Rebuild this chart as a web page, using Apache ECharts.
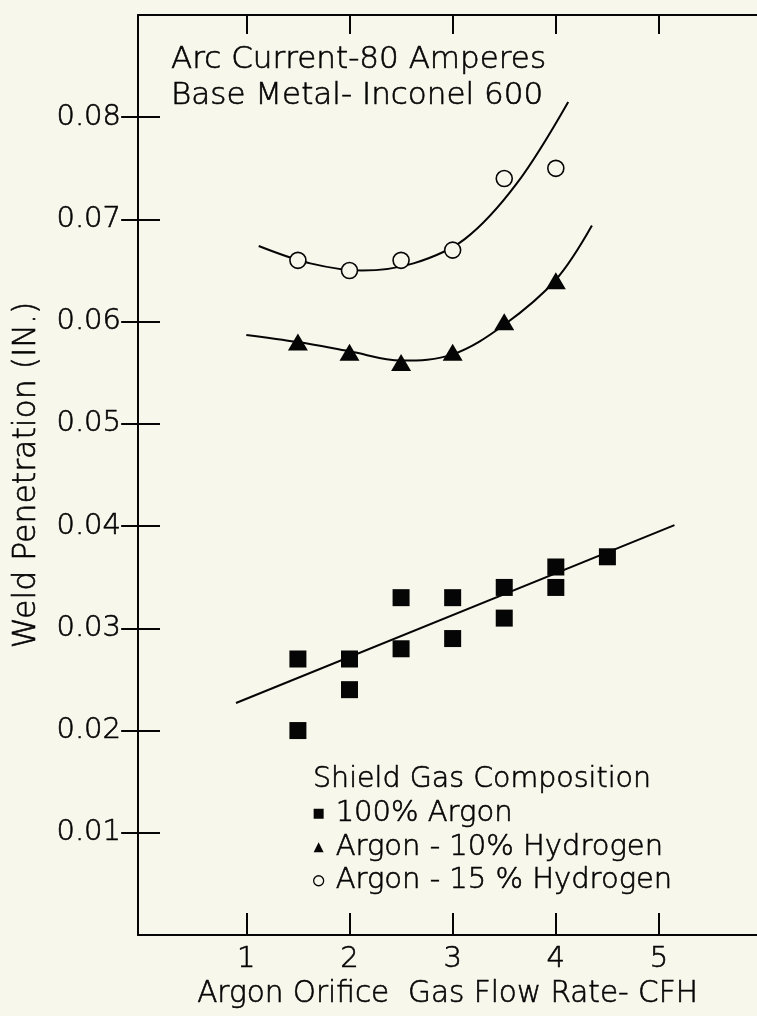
<!DOCTYPE html>
<html>
<head>
<meta charset="utf-8">
<script src="https://cdn.jsdelivr.net/npm/echarts@6/dist/echarts.min.js"></script>
<style>
  html, body { margin: 0; padding: 0; background: #f7f7ec; }
  #chart { width: 757px; height: 1016px; }
</style>
</head>
<body>
<div id="chart"></div>
<script>
// Tick positions on both axes
const flowTicks = [1, 2, 3, 4, 5];
const depthTicks = [0.01, 0.02, 0.03, 0.04, 0.05, 0.06, 0.07, 0.08];

// Measured weld penetration (in.) versus orifice gas flow rate (CFH)
const argonPts = [
  [1.5, 0.027], [1.5, 0.020], [2.0, 0.027], [2.0, 0.024],
  [2.5, 0.033], [2.5, 0.028], [3.0, 0.033], [3.0, 0.029],
  [3.5, 0.034], [3.5, 0.031], [4.0, 0.036], [4.0, 0.034],
  [4.5, 0.037]
];
const h10Pts = [[1.5, 0.058], [2.0, 0.057], [2.5, 0.056], [3.0, 0.057], [3.5, 0.060], [4.0, 0.064]];
const h15Pts = [[1.5, 0.066], [2.0, 0.065], [2.5, 0.066], [3.0, 0.067], [3.5, 0.074], [4.0, 0.075]];

// Hand-faired trend curves through each data set
const argonFit = [[0.9, 0.0227], [5.15, 0.0401]];
const h10Fit = [[1.0, 0.0587], [1.5, 0.0580], [2.0, 0.0571], [2.5, 0.0562], [3.0, 0.0568], [3.5, 0.0597], [4.0, 0.0641], [4.35, 0.0694]];
const h15Fit = [[1.12, 0.0674], [1.62, 0.0657], [2.12, 0.0650], [2.62, 0.0657], [3.12, 0.0681], [3.62, 0.0735], [4.12, 0.0815]];

const seriesNames = ['100% Argon', 'Argon - 10% Hydrogen', 'Argon - 15 % Hydrogen'];
const noteLines = ['Arc Current-80 Amperes', 'Base Metal- Inconel 600'];
const legendHeading = 'Shield Gas Composition';
const xName = 'Argon Orifice  Gas Flow Rate- CFH';
const yName = 'Weld Penetration (IN.)';

const INK = '#050505';
const BG = '#f7f7ec';

// Light face thickened slightly with a matching outline
const txt = (size, extra) => Object.assign({
  fontFamily: 'DejaVu Sans', fontWeight: 200, fontSize: size, color: INK,
  textBorderColor: INK, textBorderWidth: 0.6
}, extra || {});

const chart = echarts.init(document.getElementById('chart'), null, { renderer: 'canvas' });

const frameAxis = (extra) => Object.assign({
  axisLine: { show: true, onZero: false, lineStyle: { color: INK, width: 2 } },
  splitLine: { show: false }
}, extra);

const fitLine = (data) => ({
  type: 'line',
  data: data,
  smooth: 0.35,
  showSymbol: false,
  symbol: 'none',
  silent: true,
  lineStyle: { color: INK, width: 2 },
  z: 2
});

chart.setOption({
  backgroundColor: BG,
  animation: false,
  title: [
    {
      text: noteLines.join('\n'),
      left: 171, top: 42, padding: 0,
      textStyle: txt(31, { lineHeight: 36 })
    },
    {
      text: legendHeading,
      left: 313, top: 763, padding: 0,
      textStyle: txt(28.5, { lineHeight: 33 })
    }
  ],
  legend: {
    orient: 'vertical',
    left: 313, top: 797,
    padding: 0,
    itemGap: 0,
    itemWidth: 10, itemHeight: 10,
    textStyle: txt(29, { lineHeight: 33.5, padding: [0, 0, 0, 7] }),
    data: [
      { name: seriesNames[0], icon: 'rect', itemStyle: { color: INK } },
      { name: seriesNames[1], icon: 'triangle', itemStyle: { color: INK } },
      { name: seriesNames[2], icon: 'circle', itemStyle: { color: 'transparent', borderColor: INK, borderWidth: 1.3 } }
    ]
  },
  grid: { left: 138, top: 15, width: 624, height: 920, containLabel: false },
  xAxis: [
    frameAxis({
      type: 'value', position: 'bottom',
      min: -0.05, max: 5.95,
      axisTick: { show: true, inside: true, length: 22, customValues: flowTicks, lineStyle: { color: INK, width: 2 } },
      axisLabel: Object.assign({ show: true, customValues: flowTicks, margin: 10 }, txt(29)),
      name: xName, nameLocation: 'middle', nameGap: 37,
      nameTextStyle: txt(29.5)
    }),
    frameAxis({
      type: 'value', position: 'top',
      min: -0.05, max: 5.95,
      axisTick: { show: true, inside: true, length: 19, customValues: flowTicks, lineStyle: { color: INK, width: 2 } },
      axisLabel: { show: false }
    })
  ],
  yAxis: [
    frameAxis({
      type: 'value', position: 'left',
      min: 0, max: 0.09,
      axisTick: { show: true, inside: true, length: 22, customValues: depthTicks, lineStyle: { color: INK, width: 2 } },
      axisLabel: Object.assign({
        show: true, customValues: depthTicks, margin: 17,
        formatter: (v) => v.toFixed(2)
      }, txt(29)),
      name: yName, nameLocation: 'middle', nameGap: 95, nameRotate: 90,
      nameTextStyle: txt(31.5)
    }),
    {
      type: 'value', position: 'right',
      min: 0, max: 0.09,
      axisLine: { show: false },
      splitLine: { show: false },
      axisTick: { show: true, inside: true, length: 22, customValues: depthTicks, lineStyle: { color: INK, width: 2 } },
      axisLabel: { show: false }
    }
  ],
  series: [
    fitLine(argonFit),
    fitLine(h10Fit),
    fitLine(h15Fit),
    {
      name: seriesNames[0], type: 'scatter', data: argonPts,
      symbol: 'rect', symbolSize: 17,
      itemStyle: { color: INK, opacity: 1 }, z: 3
    },
    {
      name: seriesNames[1], type: 'scatter', data: h10Pts,
      symbol: 'triangle', symbolSize: [20, 17],
      itemStyle: { color: INK, opacity: 1 }, z: 3
    },
    {
      name: seriesNames[2], type: 'scatter', data: h15Pts,
      symbol: 'circle', symbolSize: 16,
      itemStyle: { color: BG, borderColor: INK, borderWidth: 1.6, opacity: 1 }, z: 3
    }
  ]
});
</script>
</body>
</html>
